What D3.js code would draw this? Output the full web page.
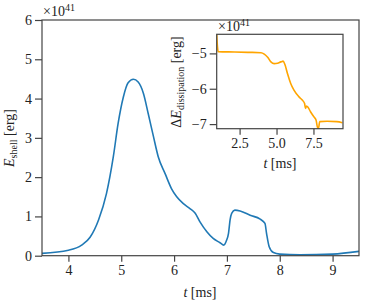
<!DOCTYPE html>
<html>
<head>
<meta charset="utf-8">
<script src="https://cdn.jsdelivr.net/npm/d3@7"></script>
<style>
  body { margin: 0; background: #fff; }
</style>
</head>
<body>
<svg id="chart" width="374" height="305" font-family="Liberation Serif"></svg>
<script>
// main panel: shell energy (units of 1e41 erg) vs time (ms)
var shellT = [3.5, 4.0, 4.25, 4.41, 4.57, 4.72, 4.85, 4.94, 5.04, 5.13, 5.23, 5.32, 5.42, 5.51, 5.61, 5.70, 5.83, 5.95, 6.05, 6.17, 6.30, 6.40, 6.49, 6.62, 6.74, 6.87, 6.94, 6.99, 7.03, 7.06, 7.09, 7.15, 7.25, 7.44, 7.63, 7.72, 7.75, 7.80, 7.88, 8.0, 8.38, 9.0, 9.5]
var shellE = [0.06, 0.14, 0.27, 0.47, 0.91, 1.58, 2.52, 3.36, 4.04, 4.40, 4.49, 4.42, 4.13, 3.62, 3.03, 2.52, 2.09, 1.71, 1.50, 1.33, 1.20, 1.08, 0.86, 0.61, 0.44, 0.33, 0.27, 0.38, 0.57, 0.91, 1.08, 1.16, 1.14, 1.03, 0.93, 0.82, 0.57, 0.23, 0.08, 0.04, 0.02, 0.04, 0.11]

// inset: dissipated energy change (units of 1e41 erg)
var dissT = [0.95, 1.0, 1.05, 2.17, 3.06, 3.95, 4.17, 4.40, 4.62, 4.84, 5.07, 5.29, 5.45, 5.58, 5.74, 5.96, 6.18, 6.52, 6.74, 6.90, 6.96, 7.03, 7.14, 7.30, 7.52, 7.68, 7.79, 7.86, 7.92, 8.42, 9.08, 9.46]
var dissE = [-4.46, -4.80, -4.95, -4.96, -4.97, -4.98, -5.02, -5.11, -5.24, -5.29, -5.28, -5.24, -5.22, -5.33, -5.57, -5.85, -6.04, -6.23, -6.32, -6.42, -6.56, -6.49, -6.53, -6.65, -6.79, -6.89, -7.12, -7.08, -6.93, -6.92, -6.93, -6.96]

var mainXTicks = [4, 5, 6, 7, 8, 9]
var mainYTicks = [0, 1, 2, 3, 4, 5, 6]
var insetXTicks = [2.5, 5.0, 7.5]
var insetYTicks = [-5, -6, -7]

var main = { left: 42, right: 359, top: 20, bottom: 255.7 }
var inset = { left: 216.7, right: 343, top: 34.3, bottom: 128.7 }

var svg = d3.select("#chart")

var xScale = d3.scaleLinear().domain([3.5, 9.5]).range([main.left, main.right])
var yScale = d3.scaleLinear().domain([0, 6]).range([main.bottom, main.top])

var ix = d3.scaleLinear().domain([0.95, 9.5]).range([inset.left, inset.right])
var iy = d3.scaleLinear().domain([-7.13, -4.46]).range([inset.bottom, inset.top])

var axisColor = "#444"
var textColor = "#222"
var fontSize = "14px"
var subSize = "10px"

function styleAxis(g) {
    g.attr("font-family", "Liberation Serif").attr("font-size", fontSize)
    g.select(".domain").remove()
    g.selectAll(".tick line").attr("stroke", axisColor).attr("stroke-width", 1.2)
    g.selectAll(".tick text").attr("fill", textColor)
}

// main axes
svg.append("g")
    .attr("transform", `translate(0, ${main.bottom})`)
    .call(d3.axisBottom(xScale).tickValues(mainXTicks).tickSize(6).tickPadding(3).tickFormat(d3.format("d")))
    .call(styleAxis)

svg.append("g")
    .attr("transform", `translate(${main.left}, 0)`)
    .call(d3.axisLeft(yScale).tickValues(mainYTicks).tickSize(7).tickPadding(3).tickFormat(d3.format("d")))
    .call(styleAxis)

var line = d3.line()
    .x((d, i) => xScale(shellT[i]))
    .y(d => yScale(d))
    .curve(d3.curveMonotoneX)

svg.append("defs").append("clipPath").attr("id", "clipMain")
    .append("rect").attr("x", main.left).attr("y", main.top)
    .attr("width", main.right - main.left).attr("height", main.bottom - main.top)

svg.append("path")
    .datum(shellE)
    .attr("clip-path", "url(#clipMain)")
    .attr("fill", "none")
    .attr("stroke", "#2079b5")
    .attr("stroke-width", 1.6)
    .attr("d", line)

svg.append("rect")
    .attr("x", main.left).attr("y", main.top)
    .attr("width", main.right - main.left).attr("height", main.bottom - main.top)
    .attr("fill", "none").attr("stroke", axisColor).attr("stroke-width", 1.2)

// main labels
svg.append("text")
    .attr("x", 200).attr("y", 297)
    .attr("text-anchor", "middle")
    .attr("font-size", fontSize).attr("fill", textColor)
    .html('<tspan font-style="italic">t</tspan> [ms]')

svg.append("text")
    .attr("transform", "translate(14, 138) rotate(-90)")
    .attr("text-anchor", "middle")
    .attr("font-size", fontSize).attr("fill", textColor)
    .html('<tspan font-style="italic">E</tspan><tspan font-size="' + subSize + '" dy="3">shell</tspan><tspan dy="-3"> [erg]</tspan>')

svg.append("text")
    .attr("x", 43).attr("y", 16)
    .attr("font-size", fontSize).attr("fill", textColor)
    .html('×10<tspan font-size="' + subSize + '" dy="-5">41</tspan>')

// inset
svg.append("rect")
    .attr("x", inset.left).attr("y", inset.top)
    .attr("width", inset.right - inset.left).attr("height", inset.bottom - inset.top)
    .attr("fill", "#fff")

svg.append("g")
    .attr("transform", `translate(0, ${inset.bottom})`)
    .call(d3.axisBottom(ix).tickValues(insetXTicks).tickSize(6).tickPadding(3).tickFormat(d3.format(".1f")))
    .call(styleAxis)

svg.append("g")
    .attr("transform", `translate(${inset.left}, 0)`)
    .call(d3.axisLeft(iy).tickValues(insetYTicks).tickSize(7).tickPadding(3).tickFormat(d => "−" + Math.abs(d)))
    .call(styleAxis)

svg.append("defs").append("clipPath").attr("id", "clipInset")
    .append("rect").attr("x", inset.left).attr("y", inset.top)
    .attr("width", inset.right - inset.left).attr("height", inset.bottom - inset.top)

var insetLine = d3.line()
    .x((d, i) => ix(dissT[i]))
    .y(d => iy(d))
    .curve(d3.curveMonotoneX)

svg.append("path")
    .datum(dissE)
    .attr("clip-path", "url(#clipInset)")
    .attr("fill", "none")
    .attr("stroke", "#ffa500")
    .attr("stroke-width", 1.6)
    .attr("d", insetLine)

svg.append("rect")
    .attr("x", inset.left).attr("y", inset.top)
    .attr("width", inset.right - inset.left).attr("height", inset.bottom - inset.top)
    .attr("fill", "none").attr("stroke", axisColor).attr("stroke-width", 1.2)

svg.append("text")
    .attr("x", 280).attr("y", 168)
    .attr("text-anchor", "middle")
    .attr("font-size", fontSize).attr("fill", textColor)
    .html('<tspan font-style="italic">t</tspan> [ms]')

svg.append("text")
    .attr("transform", "translate(181, 82) rotate(-90)")
    .attr("text-anchor", "middle")
    .attr("font-size", fontSize).attr("fill", textColor)
    .html('Δ<tspan font-style="italic">E</tspan><tspan font-size="' + subSize + '" dy="3">dissipation</tspan><tspan dy="-3"> [erg]</tspan>')

svg.append("text")
    .attr("x", 218).attr("y", 31)
    .attr("font-size", fontSize).attr("fill", textColor)
    .html('×10<tspan font-size="' + subSize + '" dy="-5">41</tspan>')
</script>
</body>
</html>
